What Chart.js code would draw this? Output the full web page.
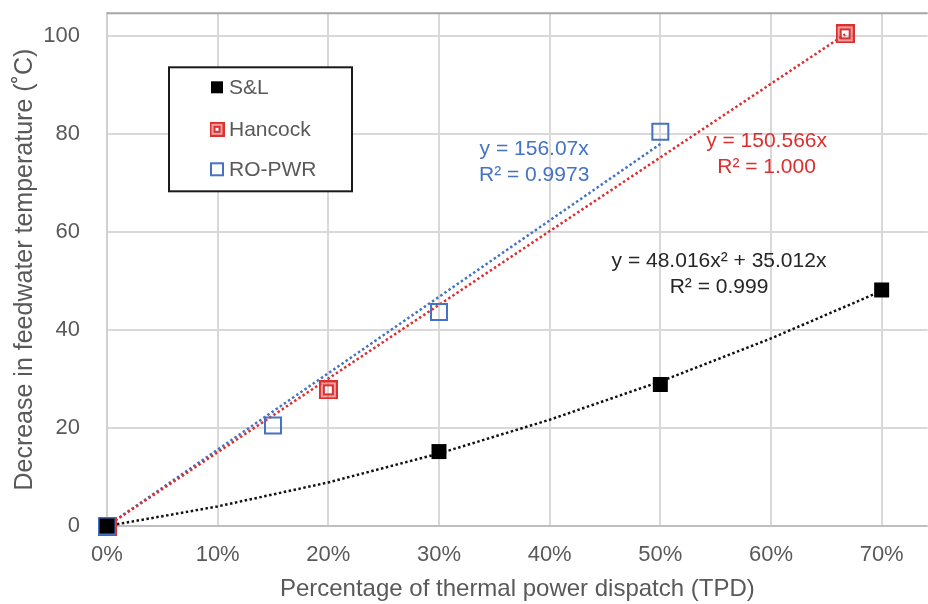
<!DOCTYPE html>
<html>
<head>
<meta charset="utf-8">
<script src="https://cdn.jsdelivr.net/npm/chart.js@4"></script>
<style>
  html, body { margin: 0; padding: 0; background: #fff; overflow: hidden; }
  #box { width: 928px; height: 604px; overflow: hidden; }
</style>
</head>
<body>
<div id="box"><canvas id="grafico" width="941" height="604"></canvas></div>
<script>
// dados
var slX = [0, 0.3, 0.5, 0.7];
var slY = [0, 15.2, 28.9, 48.2];
var hancockX = [0, 0.2, 0.667];
var hancockY = [0, 27.8, 100.5];
var ropwrX = [0, 0.15, 0.3, 0.5];
var ropwrY = [0, 20.5, 43.7, 80.5];

// linhas de tendencia
var slTrendX = [0, 0.1, 0.2, 0.3, 0.4, 0.5, 0.6, 0.7];
var slTrendY = [0, 4.0, 8.9, 14.8, 21.7, 29.5, 38.3, 48.0];
var hancockTrendX = [0, 0.667];
var hancockTrendY = [0, 100.4];
var ropwrTrendX = [0, 0.5];
var ropwrTrendY = [0, 78.0];

// ticks dos eixos
var xTicks = [0, 0.1, 0.2, 0.3, 0.4, 0.5, 0.6, 0.7];
var yTicks = [0, 20, 40, 60, 80, 100];

var legendas = ['S&L', 'Hancock', 'RO-PWR'];
var eqRopwr = ['y = 156.07x', 'R\u00b2 = 0.9973'];
var eqHancock = ['y = 150.566x', 'R\u00b2 = 1.000'];
var eqSl = ['y = 48.016x\u00b2 + 35.012x', 'R\u00b2 = 0.999'];

var corPreto = '#000000';
var corVermelho = '#dc2f2f';
var corAzul = '#4472c4';
var corTexto = '#595959';
var fonte = '"Liberation Sans", Arial, sans-serif';

function pontos(xs, ys) {
    var lista = [];
    for (var i = 0; i < xs.length; i++) {
        lista.push({ x: xs[i], y: ys[i] });
    }
    return lista;
}

// marcador duplo do Hancock
function quadradoDuplo(tam) {
    var c = document.createElement('canvas');
    c.width = tam; c.height = tam;
    var g = c.getContext('2d');
    g.fillStyle = 'rgba(220,47,47,0.45)';
    g.fillRect(0, 0, tam, tam);
    g.strokeStyle = corVermelho;
    g.lineWidth = 2;
    g.strokeRect(1, 1, tam - 2, tam - 2);
    g.clearRect(6, 6, tam - 12, tam - 12);
    g.strokeRect(5, 5, tam - 10, tam - 10);
    return c;
}
var marcaHancock = quadradoDuplo(19);
var marcaHancockLeg = quadradoDuplo(15);

var linhaTend = function (xs, ys, cor) {
    return {
        data: pontos(xs, ys),
        showLine: true,
        borderColor: cor,
        borderWidth: 2.5,
        borderDash: [2.5, 2.5],
        pointRadius: 0,
        pointHoverRadius: 0,
        fill: false,
        order: 5
    };
};

function texto(ctx, linhas, cx, cy, cor) {
    ctx.save();
    ctx.font = '21px ' + fonte;
    ctx.fillStyle = cor;
    ctx.textAlign = 'center';
    ctx.textBaseline = 'middle';
    ctx.fillText(linhas[0], cx, cy);
    ctx.fillText(linhas[1], cx, cy + 26);
    ctx.restore();
}

var extras = {
    id: 'extras',
    afterDatasetsDraw: function (chart) {
        var ctx = chart.ctx;
        var xs = chart.scales.x, ys = chart.scales.y;
        var area = chart.chartArea;

        // borda superior
        ctx.save();
        ctx.strokeStyle = '#a6a6a6';
        ctx.lineWidth = 2;
        ctx.beginPath();
        ctx.moveTo(area.left, area.top);
        ctx.lineTo(area.right, area.top);
        ctx.stroke();
        ctx.restore();

        // equacoes
        texto(ctx, eqRopwr, xs.getPixelForValue(0.386), ys.getPixelForValue(77.0), corAzul);
        texto(ctx, eqHancock, xs.getPixelForValue(0.596), ys.getPixelForValue(78.5), corVermelho);
        texto(ctx, eqSl, xs.getPixelForValue(0.553), ys.getPixelForValue(54.1), '#262626');

        // legenda
        var lx = area.left + 62, ly = area.top + 54;
        ctx.save();
        ctx.fillStyle = '#fff';
        ctx.fillRect(lx, ly, 183, 124);
        ctx.strokeStyle = '#1a1a1a';
        ctx.lineWidth = 2;
        ctx.strokeRect(lx, ly, 183, 124);
        ctx.font = '21px ' + fonte;
        ctx.textBaseline = 'middle';
        var mx = lx + 48;
        var ys0 = [ly + 20, ly + 62, ly + 102];
        // S&L
        ctx.fillStyle = corPreto;
        ctx.fillRect(mx - 6, ys0[0] - 6, 12, 12);
        // Hancock
        ctx.drawImage(marcaHancockLeg, mx - 7.5, ys0[1] - 7.5);
        // RO-PWR
        ctx.strokeStyle = corAzul;
        ctx.lineWidth = 2;
        ctx.strokeRect(mx - 6, ys0[2] - 6, 12, 12);
        ctx.fillStyle = corTexto;
        for (var i = 0; i < legendas.length; i++) {
            ctx.fillText(legendas[i], mx + 12, ys0[i] + 1);
        }
        ctx.restore();
    }
};

var grafico = new Chart(document.getElementById('grafico'), {
    type: 'scatter',
    data: {
        datasets: [
            linhaTend(slTrendX, slTrendY, '#111111'),
            linhaTend(hancockTrendX, hancockTrendY, corVermelho),
            linhaTend(ropwrTrendX, ropwrTrendY, corAzul),
            {
                label: legendas[0],
                data: pontos(slX, slY),
                pointStyle: 'rect',
                pointRadius: 10.6,
                backgroundColor: corPreto,
                borderColor: corPreto,
                borderWidth: 0,
                clip: false,
                order: 1
            },
            {
                label: legendas[1],
                data: pontos(hancockX, hancockY),
                pointStyle: marcaHancock,
                clip: false,
                order: 3
            },
            {
                label: legendas[2],
                data: pontos(ropwrX, ropwrY),
                pointStyle: 'rect',
                pointRadius: 11.3,
                backgroundColor: 'rgba(255,255,255,0)',
                borderColor: corAzul,
                borderWidth: 2,
                clip: false,
                order: 2
            }
        ]
    },
    options: {
        responsive: false,
        animation: false,
        layout: { padding: { top: 11, right: 0, left: 0, bottom: 0 } },
        plugins: {
            legend: { display: false },
            tooltip: { enabled: false }
        },
        scales: {
            x: {
                type: 'linear',
                min: 0,
                max: 0.7416,
                afterBuildTicks: function (s) {
                    s.ticks = xTicks.map(function (v) { return { value: v }; });
                },
                afterFit: function (s) {
                    s.height = 78;
                    s.paddingLeft = 0;
                    s.paddingRight = 0;
                },
                ticks: {
                    padding: 16,
                    color: corTexto,
                    font: { family: fonte, size: 22 },
                    callback: function (v) { return Math.round(v * 100) + '%'; }
                },
                grid: { color: '#d9d9d9', lineWidth: 2, drawTicks: false },
                border: { display: false },
                title: {
                    display: true,
                    text: 'Percentage of thermal power dispatch (TPD)',
                    color: corTexto,
                    font: { family: fonte, size: 24 },
                    padding: { top: 10, bottom: 0 }
                }
            },
            y: {
                type: 'linear',
                min: 0,
                max: 104.7,
                afterBuildTicks: function (s) {
                    s.ticks = yTicks.map(function (v) { return { value: v }; });
                },
                afterFit: function (s) {
                    s.width = 107;
                    s.paddingTop = 0;
                    s.paddingBottom = 0;
                },
                ticks: {
                    padding: 27,
                    color: corTexto,
                    font: { family: fonte, size: 22 }
                },
                grid: {
                    color: function (c) { return c.tick && c.tick.value === 0 ? '#bfbfbf' : '#d9d9d9'; },
                    lineWidth: 2,
                    drawTicks: false
                },
                border: { display: true, color: '#d0d0d0', width: 2 },
                title: {
                    display: true,
                    text: 'Decrease in feedwater temperature (\u02daC)',
                    color: corTexto,
                    font: { family: fonte, size: 25 },
                    padding: { top: 10, bottom: 0 }
                }
            }
        }
    },
    plugins: [extras]
});
</script>
</body>
</html>
